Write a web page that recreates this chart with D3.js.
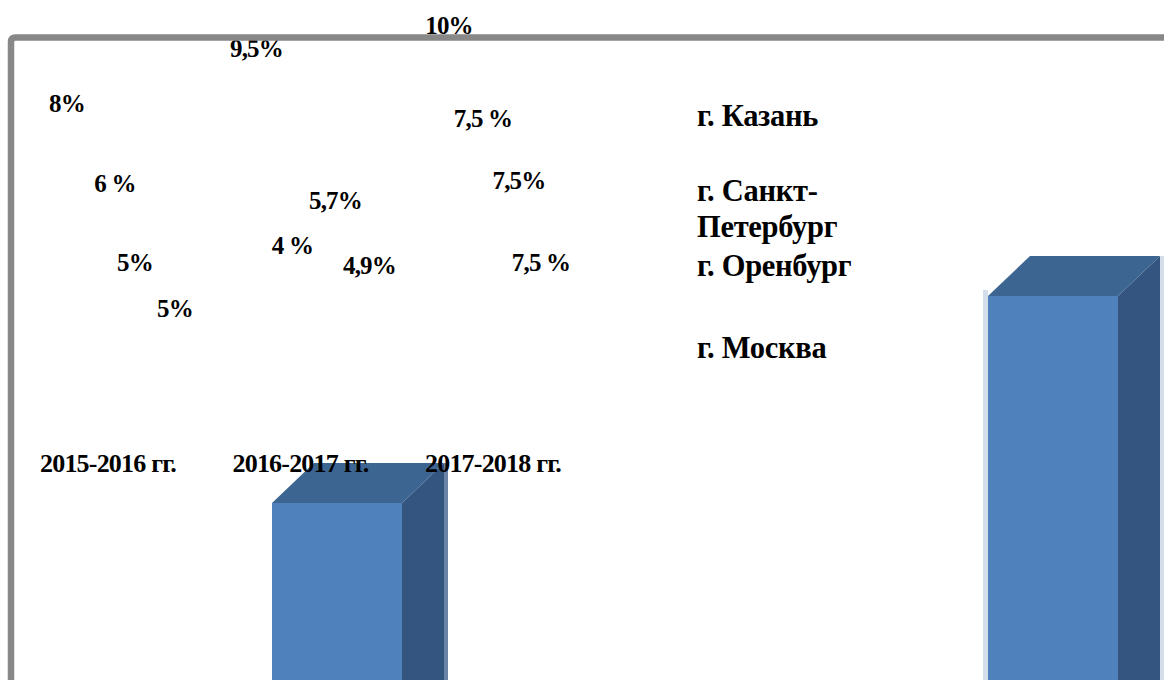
<!DOCTYPE html>
<html>
<head>
<meta charset="utf-8">
<script src="https://cdn.jsdelivr.net/npm/d3@7"></script>
<style>
  html, body { margin: 0; padding: 0; background: #ffffff; }
  svg { display: block; }
  text { font-family: "Liberation Serif", "Times New Roman", serif; font-weight: bold; fill: #000; }
</style>
</head>
<body>
<svg id="chart" width="1164" height="680"></svg>
<script>
// ---------------- data ----------------
const categories = ["2015-2016 гг.", "2016-2017 гг.", "2017-2018 гг."];
const series = ["г. Казань", "г. Санкт-Петербург", "г. Оренбург", "г. Москва"];
// values per series, in category order
const kazan      = [8, 9.5, 10];
const spb        = [6, 4, 7.5];
const orenburg   = [5, 5.7, 7.5];
const moscow     = [5, 4.9, 7.5];
// data-label texts exactly as printed
const kazanLabels    = ["8%", "9,5%", "10%"];
const spbLabels      = ["6 %", "4 %", "7,5 %"];
const orenburgLabels = ["5%", "5,7%", "7,5%"];
const moscowLabels   = ["5%", "4,9%", "7,5 %"];
// the two (oversized) 3-D columns that remain visible
const barKeys   = ["2016-2017 гг.", "2017-2018 гг."];
const barValues = [5, 7.5];
// legend text lines (wrapped as in the picture)
const legendLines = [["г. Казань"], ["г. Санкт-", "Петербург"], ["г. Оренбург"], ["г. Москва"]];

const seriesValues = [kazan, spb, orenburg, moscow];
const seriesLabels = [kazanLabels, spbLabels, orenburgLabels, moscowLabels];

// ---------------- layout ----------------
const W = 1164, H = 680;
const svg = d3.select("#chart");
svg.append("rect").attr("width", W).attr("height", H).attr("fill", "#fff");

// category positions
const xCat = d3.scalePoint().domain(categories).range([108, 493]);
// data-label vertical scale
const yLab = d3.scaleLinear().domain([0, 10]).range([405, 25]);
const seriesDx = [-43, -4, 29, 61];
const seriesDy = [0, 0, 40, 90];
// manually dragged label offsets [dx, dy] per series / category
const labelNudge = [
  [[2, 2], [-1, 4], [-1, 0]],
  [[11, 6], [-4, -8], [-6, -2]],
  [[-2, 7], [6, -28], [-3, 20]],
  [[6, 3], [8, -44], [-13, 52]]
];

// 3-D columns
const xBar = d3.scalePoint().domain(barKeys).range([272, 988]);
const yBar = d3.scaleLinear().domain([0, 10]).range([917, 89]);
const barW = 130, depthX = 42, depthY = 40;

const bars = svg.append("g");
barKeys.forEach((k, i) => {
  const x = xBar(k), top = yBar(barValues[i]), bottom = H + 10;
  const g = bars.append("g");
  // side face
  g.append("path")
    .attr("d", `M${x + barW},${top} L${x + barW + depthX},${top - depthY} L${x + barW + depthX},${bottom} L${x + barW},${bottom} Z`)
    .attr("fill", "#33557f");
  // top face
  g.append("path")
    .attr("d", `M${x},${top} L${x + depthX},${top - depthY} L${x + barW + depthX},${top - depthY} L${x + barW},${top} Z`)
    .attr("fill", "#3d6592");
  // front face
  g.append("rect")
    .attr("x", x).attr("y", top).attr("width", barW).attr("height", bottom - top)
    .attr("fill", "#4f81bd");
  // soft edge on the far side
  g.append("rect")
    .attr("x", x + barW + depthX).attr("y", top - depthY).attr("width", 4).attr("height", bottom - top + depthY)
    .attr("fill", i === 0 ? "#6a84a6" : "#d3deea");
  if (i === 1) {
    g.append("rect")
      .attr("x", x - 5).attr("y", top - 6).attr("width", 5).attr("height", bottom - top + 6)
      .attr("fill", "#d3deea");
  }
});

// category labels
svg.append("g").selectAll("text").data(categories).join("text")
  .attr("x", d => xCat(d)).attr("y", 472)
  .attr("text-anchor", "middle")
  .attr("font-size", 26).attr("letter-spacing", "-0.8")
  .text(d => d);

// data labels
const labG = svg.append("g");
seriesValues.forEach((vals, s) => {
  vals.forEach((v, c) => {
    const nx = labelNudge[s][c][0], ny = labelNudge[s][c][1];
    labG.append("text")
      .attr("x", xCat(categories[c]) + seriesDx[s] + nx)
      .attr("y", yLab(v) + seriesDy[s] + ny)
      .attr("dy", "0.35em")
      .attr("text-anchor", "middle")
      .attr("font-size", 25).attr("letter-spacing", "-0.8")
      .text(seriesLabels[s][c]);
  });
});

// legend (no colour keys in the picture)
const yLeg = d3.scalePoint().domain(series).range([115, 347]);
const legNudge = [0, 16, -4, 0];
const lineH = 36;
const legG = svg.append("g");
series.forEach((s, i) => {
  const lines = legendLines[i];
  const cy = yLeg(s) + legNudge[i];
  lines.forEach((t, j) => {
    legG.append("text")
      .attr("x", 697)
      .attr("y", cy + (j - (lines.length - 1) / 2) * lineH)
      .attr("dy", "0.35em")
      .attr("font-size", 30.5).attr("letter-spacing", "-0.3")
      .text(t);
  });
});

// plot-area frame (drawn over the labels, as in the picture)
svg.append("path")
  .attr("d", `M11,${H + 10} L11,42 Q11,37.5 15.5,37.5 L${W + 10},37.5`)
  .attr("fill", "none")
  .attr("stroke", "#888888")
  .attr("stroke-width", 6.5);
</script>
</body>
</html>
